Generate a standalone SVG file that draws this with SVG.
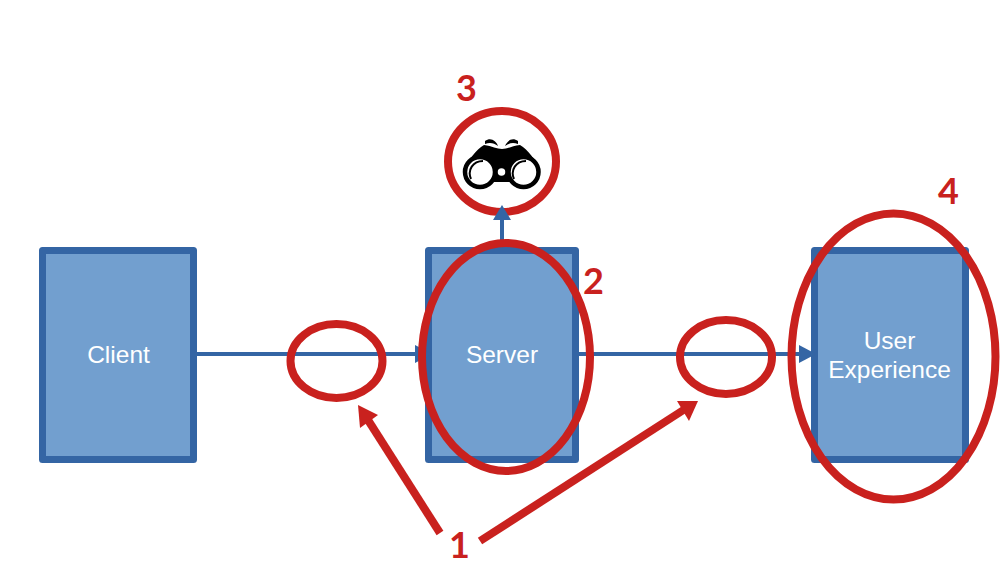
<svg xmlns="http://www.w3.org/2000/svg" width="1001" height="569" viewBox="0 0 1001 569">
<style>
.box{fill:#729fcf;stroke:#3465a4;stroke-width:7;stroke-linejoin:round}
.lbl{font-family:"Liberation Sans",Arial,sans-serif;font-size:24.500px;fill:#fff;text-anchor:middle}
.num{font-family:Lato,"Liberation Sans",sans-serif;font-weight:700;font-size:36px;fill:#c9211e;text-anchor:middle}
.con{stroke:#3465a4;stroke-width:4;fill:none}
.ring{fill:none;stroke:#c9211e;stroke-width:8}
.call{stroke:#c9211e;stroke-width:8;fill:none}
.rh{fill:#c9211e}
.bh{fill:#3465a4}
</style>
<rect width="1001" height="569" fill="#fff"/>
<g id="client"><rect class="box" x="42.500" y="250.500" width="151" height="209"/><text class="lbl" x="118.500" y="362.500">Client</text></g>
<g id="server"><rect class="box" x="428.500" y="250.500" width="147" height="209"/><text class="lbl" x="502" y="362.500">Server</text></g>
<g id="user-experience"><rect class="box" x="814.500" y="250.500" width="151" height="209"/><text class="lbl" x="889.500" y="348.500">User</text><text class="lbl" x="889.500" y="377.500">Experience</text></g>
<g id="connectors">
<path class="con" d="M197 354H418"/><path class="bh" d="M432 354L415 345V363Z"/>
<path class="con" d="M579 354H802"/><path class="bh" d="M816 354L799 345V363Z"/>
<path class="con" d="M502 247V218"/>
</g>
<g id="binoculars">
<path d="M464 170C468 160 476 150 484 145C492 146 497 149 502 149C507 149 512 146 520 145C528 150 536 160 540 170L530 182H474Z" fill="#000"/>
<path d="M485 141C491 137 496 141 498 146C494 143 490 142 485 144ZM518 141C512 137 507 141 505 146C509 143 513 142 518 144Z" fill="#000"/>
<circle cx="480" cy="172" r="15" fill="#fff" stroke="#000" stroke-width="4.500"/>
<circle cx="523.500" cy="172" r="15" fill="#fff" stroke="#000" stroke-width="4.500"/>
<circle cx="501.500" cy="172" r="5.500" fill="#fff" stroke="#000" stroke-width="3.500"/>
<path d="M471 179C467 170 473 161 483 161M514 179C510 170 516 161 526 161" fill="none" stroke="#000" stroke-width="2"/>
</g>
<g id="annotations">
<ellipse class="ring" cx="336.500" cy="361" rx="46" ry="37"/>
<ellipse class="ring" cx="726" cy="357" rx="46" ry="37"/>
<ellipse class="ring" cx="506" cy="357" rx="84" ry="114"/>
<ellipse class="ring" cx="502" cy="161.500" rx="54" ry="50.500"/>
<ellipse class="ring" cx="893.500" cy="356.500" rx="102" ry="143"/>
<path class="call" d="M440 533L368 420"/><path class="rh" d="M358 405L378 415L360 428Z"/>
<path class="call" d="M480 541L685 409"/><path class="rh" d="M698 401L677 401L689 421Z"/>
</g>
<g id="connector-head-top"><path class="bh" d="M502 205L493 220H511Z"/></g>
<g id="labels">
<text class="num" x="466.500" y="101">3</text>
<text class="num" x="593.500" y="294">2</text>
<text class="num" x="948.500" y="204">4</text>
<text class="num" x="459.500" y="558">1</text>
</g>
</svg>
